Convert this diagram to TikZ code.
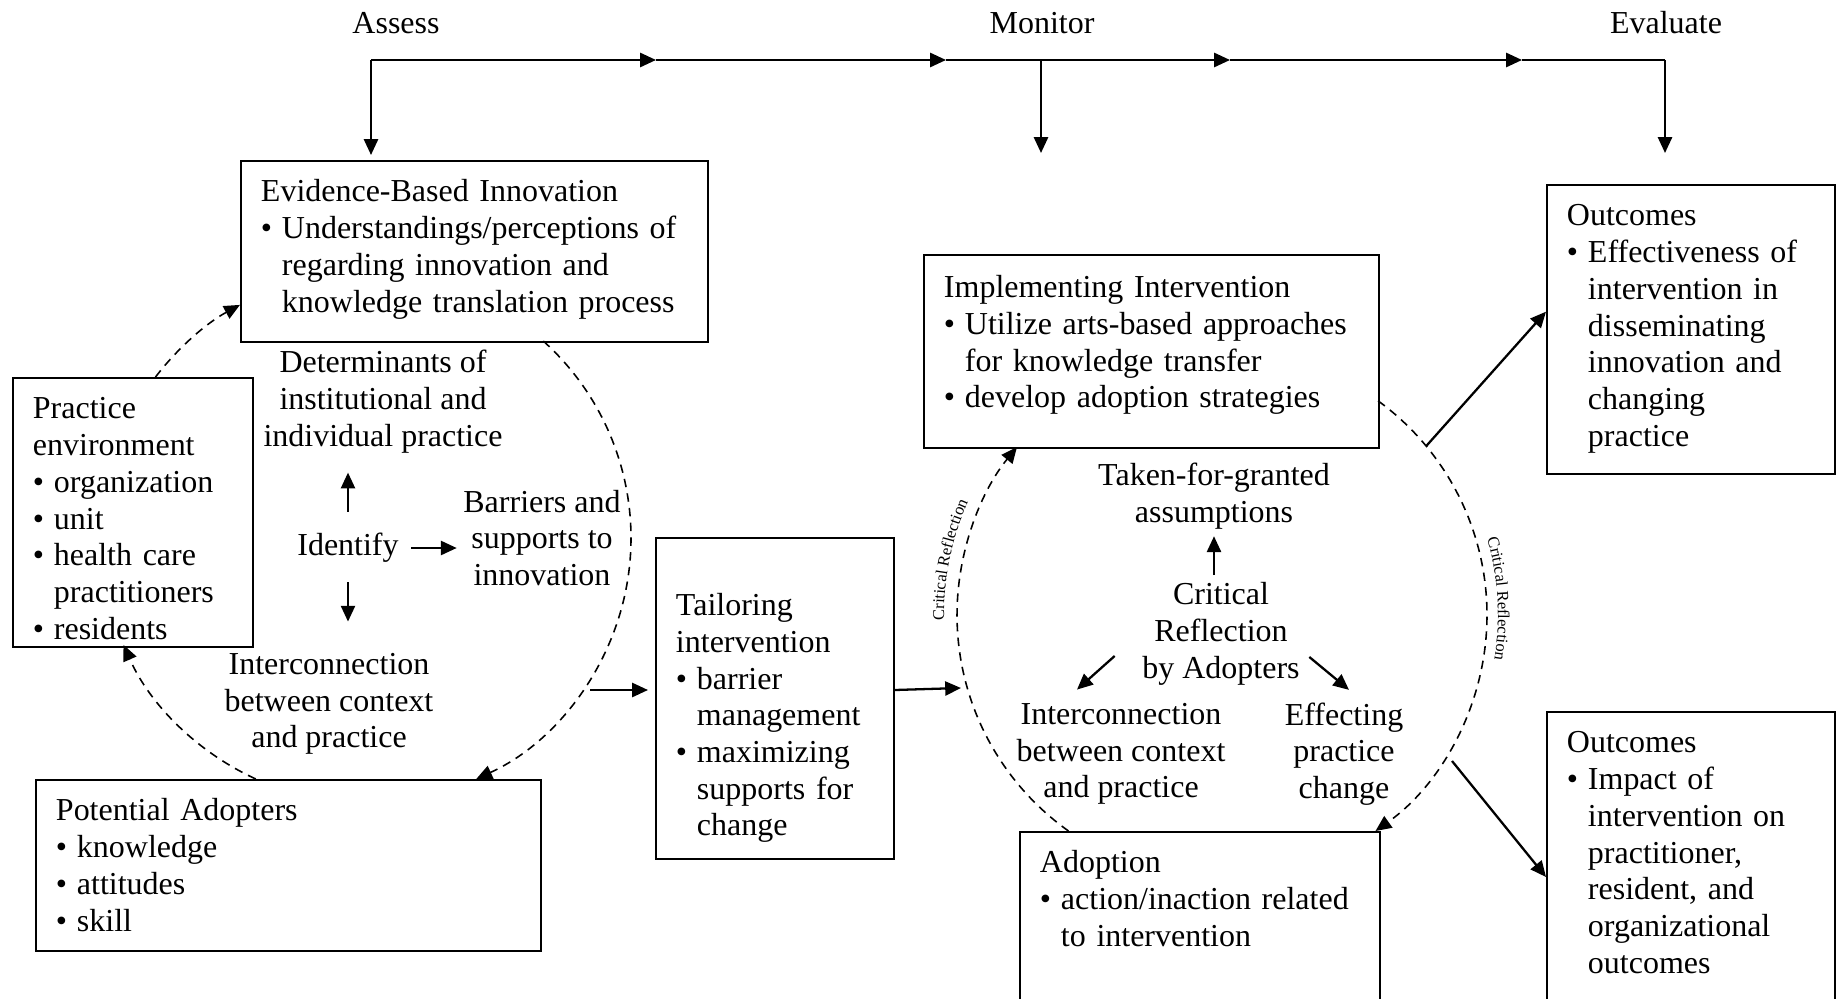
\documentclass[tikz,border=0pt]{standalone}
\usepackage{fontspec}
\setmainfont{Liberation Serif}
\usepackage{tikz}
\usetikzlibrary{arrows.meta, calc, decorations.text}

\newcommand{\bodyfont}{\fontsize{9.1}{10.45}\selectfont}
\newcommand{\crfont}{\fontsize{4.7}{5}\selectfont}
\newcommand{\bul}{\makebox[0.21cm][l]{\textbullet}}
\newcommand{\bulgap}{\hspace*{0.21cm}}

\tikzstyle{stagebox} = [rectangle, draw, fill=white, line width=0.55pt, anchor=north west, align=left, inner xsep=0.2cm, inner ysep=0.17cm, text height=0.24cm]
\tikzstyle{freetext} = [align=center, inner sep=0pt]
\tikzstyle{arrow} = [line width=0.65pt, -{Triangle[length=4.5pt, width=4pt]}]
\tikzstyle{loopline} = [line width=0.45pt, dash pattern=on 2.4pt off 1.8pt, -{Triangle[length=4.5pt, width=4pt]}]
\tikzstyle{crtext} = [decorate, decoration={text along path, text align=center, text={|\crfont|Critical Reflection}}]

\begin{document}
\begin{tikzpicture}[font=\bodyfont]
    \useasboundingbox (0,0) rectangle (18.36,9.98);
    \clip (0,0) rectangle (18.36,9.98);

    % Phases
    \node[freetext] (assess) at (3.96,9.75) {Assess};
    \node[freetext] (monitor) at (10.42,9.75) {Monitor};
    \node[freetext] (evaluate) at (16.66,9.75) {Evaluate};

    % Stages
    \node[stagebox, text width=4.27cm, text depth=1.234cm] (evid) at (2.40,8.38) {Evidence-Based Innovation\\\bul Understandings/perceptions of\\\bulgap regarding innovation and\\\bulgap knowledge translation process};
    \node[stagebox, text width=2.00cm, text depth=2.114cm] (pract) at (0.12,6.21) {Practice\\environment\\\bul organization\\\bul unit\\\bul health care\\\bulgap practitioners\\\bul residents};
    \node[stagebox, text width=4.65cm, text depth=1.134cm] (adopt) at (0.35,2.19) {Potential Adopters\\\bul knowledge\\\bul attitudes\\\bul skill};
    \node[stagebox, text width=1.98cm, text height=0.606cm, text depth=2.264cm] (tail) at (6.55,4.61) {Tailoring\\intervention\\\bul barrier\\\bulgap management\\\bul maximizing\\\bulgap supports for\\\bulgap change};
    \node[stagebox, text width=4.15cm, text height=0.256cm, text depth=1.334cm] (impl) at (9.23,7.44) {Implementing Intervention\\\bul Utilize arts-based approaches\\\bulgap for knowledge transfer\\\bul develop adoption strategies};
    \node[stagebox, text width=3.20cm, text depth=2.0cm] (adoption) at (10.19,1.67) {Adoption\\\bul action/inaction related\\\bulgap to intervention};
    \node[stagebox, text width=2.48cm, text depth=2.314cm] (out1) at (15.46,8.14) {Outcomes\\\bul Effectiveness of\\\bulgap intervention in\\\bulgap disseminating\\\bulgap innovation and\\\bulgap changing\\\bulgap practice};
    \node[stagebox, text width=2.48cm, text depth=2.8cm] (out2) at (15.46,2.87) {Outcomes\\\bul Impact of\\\bulgap intervention on\\\bulgap practitioner,\\\bulgap resident, and\\\bulgap organizational\\\bulgap outcomes};

    % Texts inside the cycles
    \node[freetext] (determ) at (3.83,5.965) {Determinants of\\institutional and\\individual practice};
    \node[freetext] (ident) at (3.48,4.50) {Identify};
    \node[freetext] (barr) at (5.42,4.60) {Barriers and\\supports to\\innovation};
    \node[freetext] (inter1) at (3.29,2.94) {Interconnection\\between context\\and practice};
    \node[freetext] (taken) at (12.14,5.015) {Taken-for-granted\\assumptions};
    \node[freetext] (crit) at (12.21,3.64) {Critical\\Reflection\\by Adopters};
    \node[freetext] (inter2) at (11.21,2.44) {Interconnection\\between context\\and practice};
    \node[freetext] (effect) at (13.44,2.44) {Effecting\\practice\\change};

    % Timeline
    \coordinate (tas) at (3.71,9.38);
    \coordinate (t1) at (6.56,9.38);
    \coordinate (t2) at (9.46,9.38);
    \coordinate (tmo) at (10.41,9.38);
    \coordinate (t3) at (12.30,9.38);
    \coordinate (t4) at (15.22,9.38);
    \coordinate (tev) at (16.65,9.38);
    \coordinate (mon) at (10.41,8.45);
    \coordinate (eva) at (16.65,8.45);
    \draw[arrow] (tas) -- (t1);
    \draw[arrow] (t1) -- (t2);
    \draw[arrow] (t2) -- (t3);
    \draw[arrow] (t3) -- (t4);
    \draw[line width=0.65pt] (t4) -- (tev);
    \draw[arrow, shorten >=0.05cm] (tas) -- (tas |- evid.north);
    \draw[arrow] (tmo) -- (mon);
    \draw[arrow] (tev) -- (eva);

    % Left cycle
    \coordinate (lc) at (3.66,4.60);
    \draw[loopline] ($(lc)+(48:2.65)$) arc[start angle=48, end angle=-65.4, radius=2.65];
    \draw[loopline] ($(lc)+(245.4:2.65)$) arc[start angle=245.4, end angle=203.8, radius=2.65];
    \draw[loopline] ($(lc)+(142.6:2.65)$) arc[start angle=142.6, end angle=118.4, radius=2.65];
    \draw[arrow, shorten <=0.21cm, shorten >=0.19cm] (ident.north) -- (ident.north |- determ.south);
    \draw[arrow, shorten <=0.19cm, shorten >=0.31cm] (ident.south) -- (ident.south |- inter1.north);
    \draw[arrow, shorten <=0.12cm, shorten >=0.06cm] (ident.east) -- (ident.east -| barr.west);

    % Right cycle
    \coordinate (rc) at (12.22,3.83);
    \draw[loopline] ($(rc)+(234.6:2.65)$) arc[start angle=234.6, end angle=140.7, radius=2.65];
    \draw[loopline] ($(rc)+(53.9:2.65)$) arc[start angle=53.9, end angle=-54.6, radius=2.65];
    \path[crtext] ($(rc)+(198.5:2.78)$) arc[start angle=198.5, end angle=138.5, radius=2.78];
    \path[crtext] ($(rc)+(33.4:2.76)$) arc[start angle=33.4, end angle=-26.6, radius=2.76];
    \draw[arrow, shorten <=0.07cm, shorten >=0.06cm] (crit.north -| taken.south) -- (taken.south);
    \draw[arrow] ($(crit.south west)+(-0.27,0.30)$) -- ($(inter2.north)+(-0.44,0.13)$);
    \draw[arrow] ($(crit.south east)+(0.09,0.29)$) -- ($(effect.north)+(0.05,0.12)$);

    % Between the cycles
    \coordinate (lcout) at (5.90,3.08);
    \coordinate (rcin) at (9.61,3.10);
    \draw[arrow, shorten >=0.07cm] (lcout) -- (lcout -| tail.west);
    \draw[arrow] (tail.east |- lcout) -- (rcin);

    % To the outcomes
    \coordinate (rcout1) at ($(rc)+(39.6:2.65)$);
    \coordinate (rcout2) at (14.52,2.37);
    \draw[arrow] (rcout1) -- ([yshift=0.18cm]out1.west);
    \draw[arrow] (rcout2) -- ([yshift=-1.66cm]out2.north west);
\end{tikzpicture}
\end{document}
